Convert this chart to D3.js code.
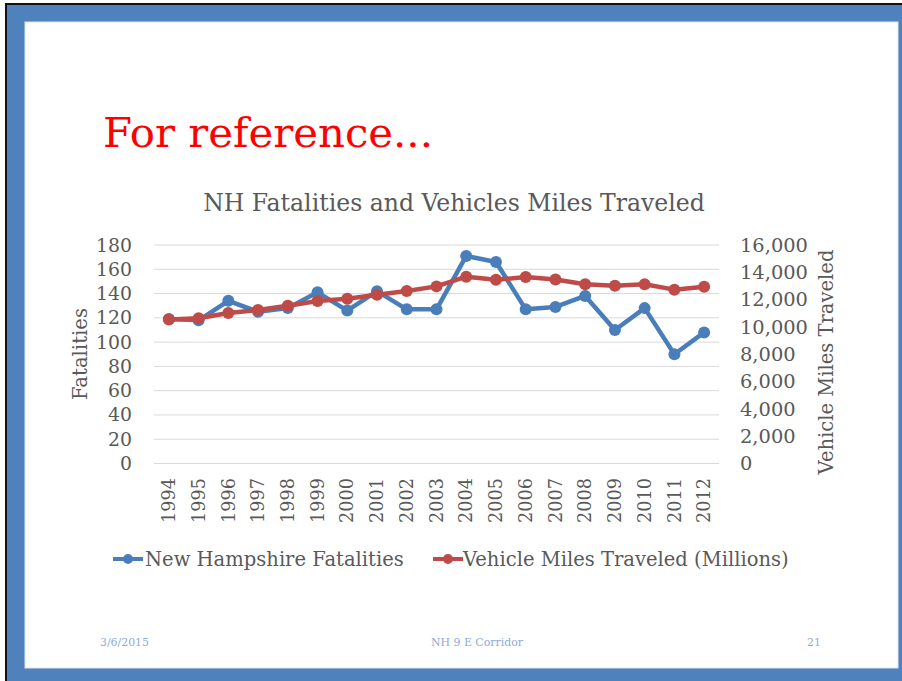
<!DOCTYPE html>
<html><head><meta charset="utf-8">
<script src="https://cdn.jsdelivr.net/npm/d3@7"></script>
<style>body{margin:0;background:#fff}svg{display:block}svg text{font-family:"DejaVu Serif",serif !important}</style>
</head><body><svg id="c" width="902" height="681" font-family="DejaVu Serif"></svg>
<script>
const years = ["1994","1995","1996","1997","1998","1999","2000","2001","2002","2003","2004","2005","2006","2007","2008","2009","2010","2011","2012"];
const fatalities = [119,118,134,125,128,141,126,142,127,127,171,166,127,129,138,110,128,90,108];
const vmt = [10550,10630,11020,11240,11550,11900,12060,12360,12630,12970,13680,13460,13650,13480,13120,13020,13120,12730,12950];
const leftTicks = [0,20,40,60,80,100,120,140,160,180];
const rightTicks = [0,2000,4000,6000,8000,10000,12000,14000,16000];
const seriesNames = ["New Hampshire Fatalities","Vehicle Miles Traveled (Millions)"];

const svg = d3.select("#c");
const FONT = '"DejaVu Serif", serif';
const BLUE="#4a7ebb", RED="#be4b48", GRAY="#595959", GRID="#d9d9d9";

function fit(sel, target){
  sel.style("font-family",FONT).style("font-size","20px");
  const w = sel.node().getComputedTextLength();
  const s = 20*target/w;
  sel.style("font-size", s+"px");
  return s;
}
function fitSize(str, target){
  const t = svg.append("text").text(str);
  const s = fit(t, target); t.remove(); return s;
}

// frame
svg.append("rect").attr("x",5).attr("y",3).attr("width",897).attr("height",678).attr("fill","#111");
svg.append("rect").attr("x",7).attr("y",5).attr("width",895).attr("height",676).attr("fill","#4f81bd");
svg.append("rect").attr("x",25).attr("y",22).attr("width",873).attr("height",646).attr("fill","#fff").attr("stroke","#dbe5f1").attr("stroke-width",1);

// slide title
const tt = svg.append("text").attr("x",103).attr("y",147).attr("fill","#ff0000").text("For reference...");
fit(tt,330);

// chart title
const ct = svg.append("text").attr("x",454).attr("y",211).attr("text-anchor","middle").attr("fill",GRAY).text("NH Fatalities and Vehicles Miles Traveled");
fit(ct,502);

const x0=154, x1=719, yTop=245, yBot=463.5;
const x = d3.scaleBand().domain(years).range([x0,x1]);
const yL = d3.scaleLinear().domain([0,180]).range([yBot,yTop]);
const yR = d3.scaleLinear().domain([0,16000]).range([yBot,yTop]);

// grid
svg.append("g").selectAll("line").data(leftTicks).join("line")
  .attr("x1",x0).attr("x2",x1).attr("y1",d=>yL(d)).attr("y2",d=>yL(d))
  .attr("stroke",GRID).attr("stroke-width",1);

// left axis
const lSize = fitSize("180",36);
const gL = svg.append("g").attr("transform",`translate(${x0},0)`)
  .call(d3.axisLeft(yL).tickValues(leftTicks).tickSize(0).tickPadding(22));
gL.attr("font-family",FONT);
gL.select(".domain").remove();
gL.selectAll("text").attr("fill",GRAY).style("font-size",lSize+"px").style("font-family",FONT);

// right axis
const rSize = fitSize("16,000",68);
const gR = svg.append("g").attr("transform",`translate(${x1},0)`)
  .call(d3.axisRight(yR).tickValues(rightTicks).tickSize(0).tickPadding(21).tickFormat(d3.format(",")));
gR.attr("font-family",FONT);
gR.select(".domain").remove();
gR.selectAll("text").attr("fill",GRAY).style("font-size",rSize+"px").style("font-family",FONT);

// x axis labels
const xSize = fitSize("1994",45);
svg.append("g").selectAll("text").data(years).join("text")
  .attr("transform",d=>`translate(${x(d)+x.bandwidth()/2},478) rotate(-90)`)
  .attr("text-anchor","end").attr("dy","0.35em").attr("fill",GRAY)
  .style("font-size",xSize+"px").text(d=>d);

// axis titles
const lt = svg.append("text").attr("transform","translate(80,354) rotate(-90)").attr("text-anchor","middle").attr("dy","0.35em").attr("fill",GRAY).text("Fatalities");
fit(lt,92);
const rt = svg.append("text").attr("transform","translate(826,362) rotate(-90)").attr("text-anchor","middle").attr("dy","0.35em").attr("fill",GRAY).text("Vehicle Miles Traveled");
fit(rt,225);

// series
const cx = d=>x(d)+x.bandwidth()/2;
const series = [
  {vals:fatalities, y:yL, color:BLUE},
  {vals:vmt, y:yR, color:RED}
];
series.forEach(s=>{
  const line = d3.line().x((d,i)=>cx(years[i])).y(d=>s.y(d));
  svg.append("path").datum(s.vals).attr("d",line).attr("fill","none")
    .attr("stroke",s.color).attr("stroke-width",4.5).attr("stroke-linejoin","round");
  svg.append("g").selectAll("circle").data(s.vals).join("circle")
    .attr("cx",(d,i)=>cx(years[i])).attr("cy",d=>s.y(d)).attr("r",6).attr("fill",s.color);
});

// legend
const legSize = fitSize(seriesNames[0],259);
const leg = [{x:113,tx:145,c:BLUE,n:seriesNames[0]},{x:433,tx:463,c:RED,n:seriesNames[1]}];
leg.forEach(l=>{
  svg.append("line").attr("x1",l.x).attr("x2",l.x+30).attr("y1",559).attr("y2",559).attr("stroke",l.c).attr("stroke-width",4);
  svg.append("circle").attr("cx",l.x+15).attr("cy",559).attr("r",5).attr("fill",l.c);
  svg.append("text").attr("x",l.tx).attr("y",566).attr("fill",GRAY).style("font-size",legSize+"px").text(l.n);
});

// footer
const FOOT="#8eaadb";
const fSize = fitSize("NH 9 E Corridor",92);
[["3/6/2015",100,"start"],["NH 9 E Corridor",477,"middle"],["21",821,"end"]].forEach(f=>{
  svg.append("text").attr("x",f[1]).attr("y",646).attr("text-anchor",f[2]).attr("fill",FOOT).style("font-size",fSize+"px").text(f[0]);
});

svg.selectAll("text").style("font-family",FONT);
</script></body></html>
